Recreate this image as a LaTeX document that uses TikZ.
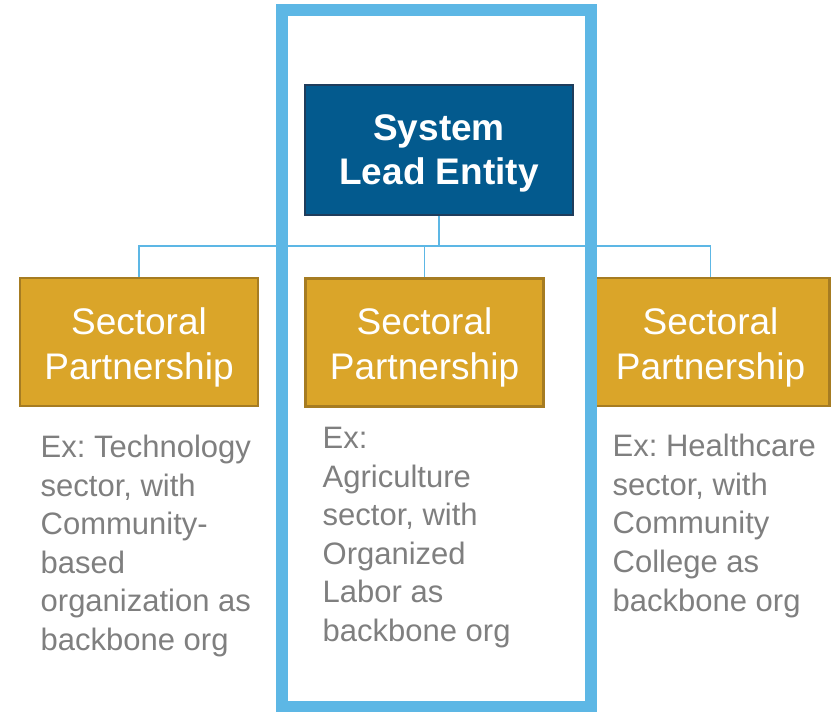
\documentclass[tikz,border=0pt]{standalone}
\usepackage{fontspec}
\setmainfont{Liberation Sans}
\frenchspacing
\definecolor{frameblue}{HTML}{5DB7E5}
\definecolor{leadfill}{HTML}{035A8E}
\definecolor{leaddraw}{HTML}{1F3D5C}
\definecolor{goldfill}{HTML}{DAA529}
\definecolor{golddraw}{HTML}{A67C22}
\definecolor{graytext}{HTML}{7F7F7F}
\begin{document}
\begin{tikzpicture}[x=1pt,y=-1pt,
  leadbox/.style={draw=leaddraw,line width=2pt,fill=leadfill,minimum width=268pt,minimum height=130pt,inner sep=0pt},
  goldbox/.style={draw=golddraw,line width=2.5pt,fill=goldfill,minimum width=238pt,minimum height=128pt,inner sep=0pt},
  leadtext/.style={text=white,font=\fontsize{37}{43.5}\selectfont\bfseries,align=center,inner sep=0pt,anchor=north},
  goldtext/.style={text=white,font=\fontsize{37}{45}\selectfont,align=center,inner sep=0pt,anchor=north},
  extext/.style={text=graytext,font=\fontsize{31}{38.6}\selectfont,align=left,inner sep=0pt,anchor=north west},
  conn/.style={draw=frameblue,line width=1.5pt},
  frame/.style={draw=frameblue,line width=11.5pt}]
\useasboundingbox (0,0) rectangle (835,712);
\coordinate (bus) at (0,246);
% boxes
\node[leadbox] (top) at (439,150) {};
\node[goldbox] (L) at (139,342) {};
\node[goldbox] (M) at (424.5,342.5) {};
\node[goldbox] (R) at (710.5,342) {};
% connectors
\draw[conn] (top.south) -- (top.south |- bus);
\draw[conn] (L.north) -- (L.north |- bus) -- (R.north |- bus) -- (R.north);
\draw[conn] (M.north) -- (M.north |- bus);
% texts
\node[leadtext] (topt) at (439,114.5) {System\\Lead Entity};
\node[goldtext] (Lt) at (139,307) {Sectoral\\Partnership};
\node[goldtext] (Mt) at (424.5,307) {Sectoral\\Partnership};
\node[goldtext] (Rt) at (710.5,307) {Sectoral\\Partnership};
\node[extext] (Lx) at (40.5,434.8) {Ex: Technology\\sector, with\\Community-\\based\\organization as\\backbone org};
\node[extext] (Mx) at (322.5,427) {Ex:\\Agriculture\\sector, with\\Organized\\Labor as\\backbone org};
\node[extext] (Rx) at (612.5,434) {Ex: Healthcare\\sector, with\\Community\\College as\\backbone org};
% highlight frame
\draw[frame] (282,10) rectangle (591,706.5);
\end{tikzpicture}
\end{document}
